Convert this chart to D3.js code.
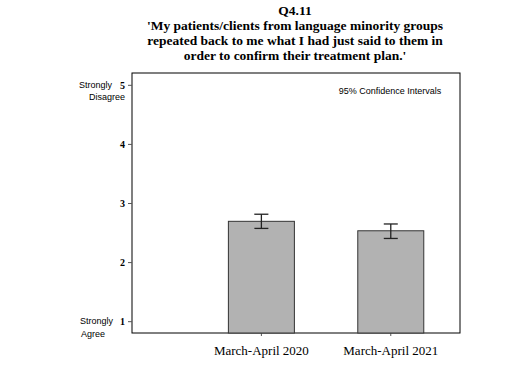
<!DOCTYPE html>
<html lang="en">
<head>
<meta charset="UTF-8">
<title>Q4.11</title>
<style>
  body { margin: 0; background: #fff; }
  svg { display: block; }
  .title { font-family: 'Liberation Serif', 'Times New Roman', serif; font-weight: bold; font-size: 13.5px; fill: #000; }
  .ytick text { font-family: 'Liberation Serif', serif; font-weight: bold; font-size: 10px; }
  .xlab { font-family: 'Liberation Serif', serif; font-size: 13px; fill: #000; }
  .sans { font-family: 'Liberation Sans', Arial, sans-serif; font-size: 9px; fill: #000; }
</style>
</head>
<body>
<div id="chart"></div>
<script src="https://cdnjs.cloudflare.com/ajax/libs/d3/7.8.5/d3.min.js"></script>
<script>
// data
const titleLines = [
  "Q4.11",
  "'My patients/clients from language minority groups",
  "repeated back to me what I had just said to them in",
  "order to confirm their treatment plan.'"
];
const periods = ["March-April 2020", "March-April 2021"];
const means = [2.69, 2.53];
const ciLow = [2.57, 2.40];
const ciHigh = [2.81, 2.645];
const yTicks = [1, 2, 3, 4, 5];

const W = 519, H = 370;
const plot = { left: 132, right: 460, top: 73, bottom: 333 };

const svg = d3.select("#chart").append("svg")
  .attr("width", W).attr("height", H);

// title
svg.append("g").selectAll("text")
  .data(titleLines).enter().append("text")
  .attr("class", "title")
  .attr("x", 295)
  .attr("y", (d, i) => 15 + i * 15)
  .attr("text-anchor", "middle")
  .text(d => d);

// scales
const y = d3.scaleLinear().domain([0.8, 5.2]).range([plot.bottom, plot.top]);
// first slot left empty, categories sit at 1 and 2
const x = d3.scaleLinear().domain([0, 2.535]).range([plot.left, plot.right]);
const barW = 66;

// frame
svg.append("rect")
  .attr("x", plot.left).attr("y", plot.top)
  .attr("width", plot.right - plot.left).attr("height", plot.bottom - plot.top)
  .attr("fill", "none").attr("stroke", "#000").attr("stroke-width", 1);

// y axis
const yAxis = svg.append("g")
  .attr("class", "ytick")
  .attr("transform", `translate(${plot.left},0)`)
  .call(d3.axisLeft(y).tickValues(yTicks).tickSize(4).tickPadding(3).tickFormat(d3.format("d")));
yAxis.select(".domain").remove();
yAxis.selectAll("line").attr("stroke", "#555");

// end labels
svg.append("text").attr("class", "sans").attr("x", 112).attr("y", y(5) + 3)
  .attr("text-anchor", "end").text("Strongly");
svg.append("text").attr("class", "sans").attr("x", 107).attr("y", y(5) + 15)
  .attr("text-anchor", "middle").text("Disagree");
svg.append("text").attr("class", "sans").attr("x", 80).attr("y", y(1) + 3)
  .text("Strongly");
svg.append("text").attr("class", "sans").attr("x", 81).attr("y", y(1) + 16)
  .text("Agree");

// x ticks + labels
const xg = svg.append("g");
xg.selectAll("line").data(periods).enter().append("line")
  .attr("x1", (d, i) => x(i + 1)).attr("x2", (d, i) => x(i + 1))
  .attr("y1", plot.bottom).attr("y2", plot.bottom + 3)
  .attr("stroke", "#555");
xg.selectAll("text").data(periods).enter().append("text")
  .attr("class", "xlab")
  .attr("x", (d, i) => x(i + 1))
  .attr("y", plot.bottom + 22)
  .attr("text-anchor", "middle")
  .text(d => d);

// bars
svg.append("g").selectAll("rect")
  .data(means).enter().append("rect")
  .attr("x", (d, i) => x(i + 1) - barW / 2)
  .attr("y", d => y(d))
  .attr("width", barW)
  .attr("height", d => plot.bottom - y(d))
  .attr("fill", "#b2b2b2")
  .attr("stroke", "#333")
  .attr("stroke-width", 1);

// error bars
const eb = svg.append("g").attr("stroke", "#222").attr("stroke-width", 1.3);
periods.forEach((p, i) => {
  const cx = x(i + 1);
  eb.append("line").attr("x1", cx).attr("x2", cx).attr("y1", y(ciLow[i])).attr("y2", y(ciHigh[i]));
  eb.append("line").attr("x1", cx - 7).attr("x2", cx + 7).attr("y1", y(ciLow[i])).attr("y2", y(ciLow[i]));
  eb.append("line").attr("x1", cx - 7).attr("x2", cx + 7).attr("y1", y(ciHigh[i])).attr("y2", y(ciHigh[i]));
});

// note
svg.append("text").attr("class", "sans")
  .attr("x", 390).attr("y", 94)
  .attr("text-anchor", "middle")
  .text("95% Confidence Intervals");
</script>
</body>
</html>
